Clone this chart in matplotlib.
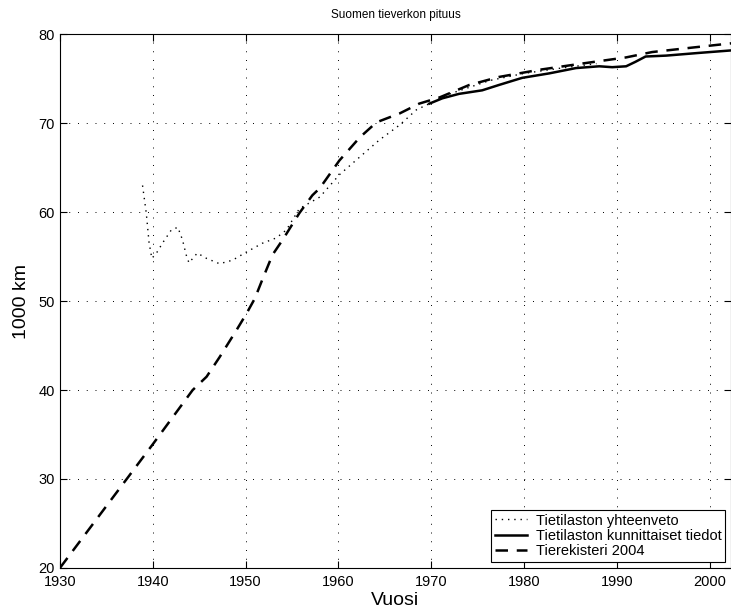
import matplotlib.pyplot as plt

plt.rcParams["font.family"] = ["Liberation Sans", "DejaVu Sans"]

# Tietilaston yhteenveto (dotted)
yht_year = [1938.9, 1939.3, 1939.6, 1939.9, 1940.4, 1941.1, 1942.0, 1942.7, 1943.2,
            1943.6, 1943.9, 1944.8, 1945.8, 1947.2, 1948.6, 1949.9, 1951.8, 1953.3,
            1954.4, 1955.8, 1958.0, 1960.1, 1962.3, 1964.4, 1966.6, 1968.4, 1969.8,
            1972.0, 1976.3, 1980.0, 1984.0, 1987.8]
yht_val = [63.0, 59.9, 56.6, 54.8, 55.4, 56.6, 58.0, 58.3, 56.9,
           55.2, 54.3, 55.4, 54.8, 54.2, 54.6, 55.4, 56.5, 57.1,
           58.0, 60.4, 61.7, 64.2, 66.2, 68.1, 69.8, 71.5, 72.2,
           73.3, 74.8, 75.6, 76.2, 76.7]

# Tietilaston kunnittaiset tiedot (solid)
kun_year = [1969.8, 1971.2, 1973.0, 1975.5, 1977.3, 1979.8, 1982.7, 1985.6,
            1988.1, 1989.5, 1991.0, 1992.0, 1993.1, 1995.3, 1998.8, 2002.5]
kun_val = [72.2, 72.8, 73.3, 73.7, 74.3, 75.1, 75.6, 76.2,
           76.4, 76.3, 76.4, 76.9, 77.5, 77.6, 77.9, 78.2]

# Tierekisteri 2004 (dashed)
rek_year = [1930.0, 1940.0, 1944.3, 1945.8, 1947.2, 1949.0, 1950.1, 1951.0, 1951.8,
            1952.9, 1954.0, 1955.8, 1957.2, 1958.0, 1960.1, 1962.3, 1964.1, 1966.6,
            1968.7, 1970.9, 1974.1, 1977.3, 1981.6, 1986.2, 1991.0, 1993.8, 1998.1,
            2002.5]
rek_val = [20.0, 33.9, 40.0, 41.5, 43.7, 46.7, 48.6, 50.3, 52.4,
           55.2, 56.9, 59.9, 61.9, 62.7, 65.8, 68.4, 70.1, 71.1,
           72.2, 72.9, 74.3, 75.2, 76.0, 76.7, 77.4, 78.0, 78.5,
           79.0]

fig = plt.figure(figsize=(7.31, 6.12), dpi=100)
ax = fig.add_axes([0.082, 0.072, 0.918, 0.872])

ax.plot(yht_year, yht_val, color="black", linestyle=(0, (1, 3.5)), linewidth=1.0,
        label="Tietilaston yhteenveto")
ax.plot(kun_year, kun_val, color="black", linestyle="-", linewidth=1.8,
        label="Tietilaston kunnittaiset tiedot")
ax.plot(rek_year, rek_val, color="black", linestyle=(0, (5, 3.5)), linewidth=1.8,
        label="Tierekisteri 2004")

ax.set_xlim(1930, 2002.3)
ax.set_ylim(20, 80)
ax.set_xticks(range(1930, 2001, 10))
ax.set_yticks(range(20, 81, 10))
ax.grid(True, color="black", linestyle=(0, (1, 8)), linewidth=0.7)
ax.tick_params(direction="in", top=True, right=True, labelsize=10.5, length=5)
ax.tick_params(axis="x", pad=5)
for s in ax.spines.values():
    s.set_linewidth(0.8)

ax.set_title("Suomen tieverkon pituus", fontsize=8.5, pad=12)
ax.set_xlabel("Vuosi", fontsize=14, labelpad=2)
ax.set_ylabel("1000 km", fontsize=14, labelpad=6)

leg = ax.legend(loc="lower right", fontsize=10.5, fancybox=False, framealpha=1,
                edgecolor="black", borderaxespad=0.4, handlelength=2.2,
                borderpad=0.25, labelspacing=0.1, handletextpad=0.6)
leg.get_frame().set_linewidth(0.8)

fig.savefig("out.png", dpi=100)
